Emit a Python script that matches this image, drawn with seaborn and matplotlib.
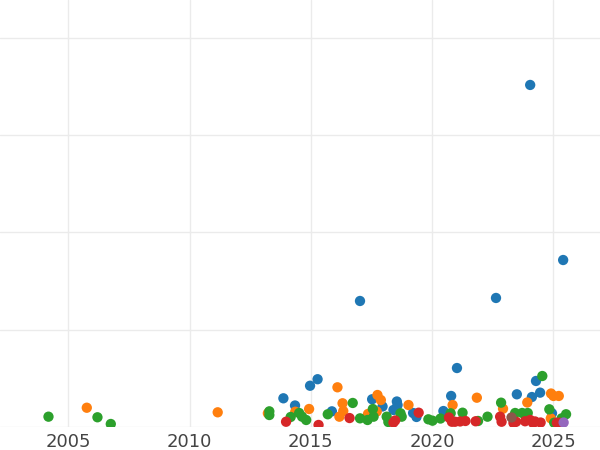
import pandas as pd
import matplotlib
matplotlib.use("Agg")
import matplotlib.pyplot as plt
import seaborn as sns

# values (year, value), grouped by category
blue_year = [2024.05, 2025.41, 2017.03, 2022.64, 2021.03, 2013.87, 2014.35, 2014.97,
             2015.28, 2015.87, 2017.53, 2017.96, 2018.55, 2018.58, 2018.41, 2019.22,
             2019.36, 2020.47, 2020.79, 2023.50, 2024.12, 2024.29, 2024.46, 2024.95]
blue_val = [351.5, 171.6, 129.5, 132.6, 60.6, 29.5, 22.1, 42.4,
            49.1, 16.1, 28.5, 21.1, 26.2, 22.6, 17.5, 14.4,
            10.3, 16.4, 31.9, 33.6, 30.8, 47.3, 35.3, 14.1]

orange_year = [2005.76, 2011.16, 2013.23, 2014.36, 2014.93, 2016.10, 2016.31, 2016.34,
               2016.18, 2017.36, 2017.75, 2017.89, 2017.72, 2019.03, 2020.85, 2021.85,
               2022.93, 2023.93, 2024.91, 2025.01, 2025.23, 2024.90]
orange_val = [19.8, 15.1, 14.1, 15.7, 18.5, 40.8, 24.4, 16.4,
              10.6, 13.4, 32.9, 27.7, 15.9, 22.6, 22.6, 30.1,
              18.8, 25.2, 34.4, 31.9, 31.9, 8.9]

green_year = [2004.18, 2006.20, 2006.75, 2013.29, 2013.29, 2014.17, 2014.52, 2014.64,
              2014.81, 2015.70, 2016.73, 2017.03, 2017.34, 2017.56, 2017.59, 2018.13,
              2018.20, 2018.70, 2018.75, 2019.85, 2020.02, 2020.35, 2020.77, 2021.26,
              2022.29, 2022.85, 2023.43, 2023.72, 2023.95, 2024.55, 2024.84, 2025.53,
              2025.35, 2025.04, 2021.90]
green_val = [10.6, 10.0, 3.1, 16.1, 12.3, 10.3, 14.4, 10.6,
             7.2, 13.1, 24.7, 8.9, 7.2, 18.5, 10.6, 10.6,
             5.1, 14.1, 10.6, 7.9, 6.5, 8.7, 14.1, 14.7,
             10.6, 25.0, 14.4, 14.4, 14.4, 52.4, 18.2, 13.1,
             8.9, 4.4, 6.2]

red_year = [2013.98, 2015.32, 2016.60, 2018.41, 2018.48, 2019.45, 2020.70, 2020.82,
            2020.95, 2021.16, 2021.38, 2021.80, 2022.81, 2022.87, 2023.36, 2023.47,
            2023.84, 2024.05, 2024.17, 2024.25, 2024.48, 2025.15, 2025.26]
red_val = [5.4, 2.1, 9.2, 4.6, 6.7, 14.7, 9.8, 5.4,
           5.4, 5.7, 6.2, 5.9, 10.6, 5.4, 4.1, 5.4,
           5.9, 7.2, 4.1, 5.7, 4.6, 4.4, 4.4]

purple_year = [2025.43]
purple_val = [4.6]

brown_year = [2023.28]
brown_val = [9.8]

groups = ["A", "B", "C", "D", "E", "F"]
colors = ["#1f77b4", "#ff7f0e", "#2ca02c", "#d62728", "#9467bd", "#8c564b"]
years = [blue_year, orange_year, green_year, red_year, purple_year, brown_year]
vals = [blue_val, orange_val, green_val, red_val, purple_val, brown_val]

df = pd.concat([pd.DataFrame({"year": y, "value": v, "group": g})
                for g, y, v in zip(groups, years, vals)], ignore_index=True)

sns.set_theme(style="whitegrid")
plt.rcParams["font.family"] = ["DejaVu Sans"]

fig = plt.figure(figsize=(6, 4.5), dpi=100)
ax = fig.add_axes([0, 23 / 450, 1, 427 / 450])

sns.scatterplot(data=df, x="year", y="value", hue="group",
                palette=dict(zip(groups, colors)), s=55, linewidth=0,
                alpha=1, legend=False, ax=ax)

ax.set_xlim(2002.18, 2026.93)
ax.set_ylim(0, 438.8)
ax.set_xticks([2005, 2010, 2015, 2020, 2025])
ax.set_yticks([0, 100, 200, 300, 400])
ax.set_yticklabels([])
ax.set_xlabel("")
ax.set_ylabel("")
ax.grid(True, color="#ebebeb", linewidth=1)
ax.tick_params(axis="x", length=0, pad=4, labelsize=13, labelcolor="#444444")
ax.tick_params(axis="y", length=0)
for s in ax.spines.values():
    s.set_visible(False)

fig.savefig("out.png", dpi=100)
